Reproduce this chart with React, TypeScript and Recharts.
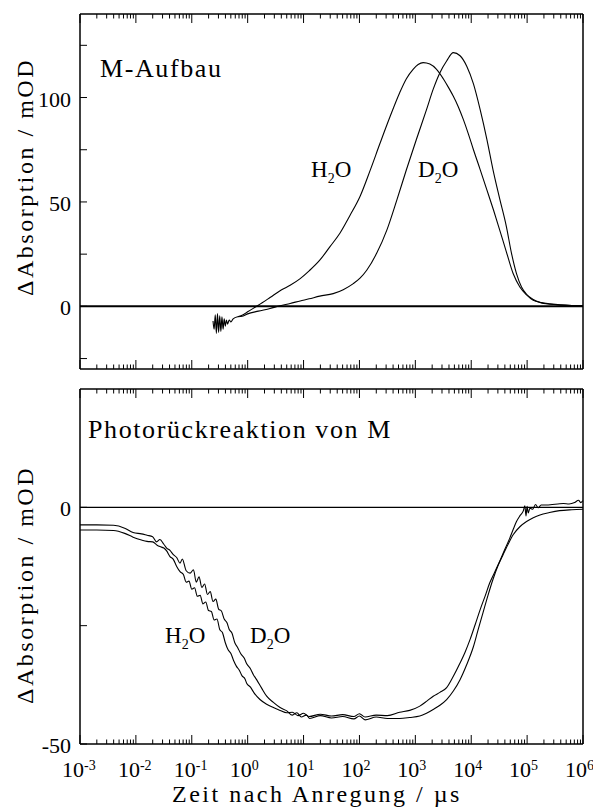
import { LineChart, Line, XAxis, YAxis, ReferenceLine } from "recharts";

const FONT = "'Liberation Serif', 'Times New Roman', serif";

// x positions are log10(t / µs)
const xDecades = [-3, -2, -1, 0, 1, 2, 3, 4, 5, 6];

// ---- M-Aufbau ----
const topBurstT = [-0.62, -0.6, -0.58, -0.56, -0.54, -0.52, -0.5, -0.48, -0.46, -0.44, -0.42, -0.4, -0.38, -0.36, -0.33, -0.3, -0.26, -0.18];
const topBurstA = [-7, -11, -4, -13, -3.5, -12.5, -4.5, -12, -5, -11, -6, -9.5, -6.5, -8.5, -6.5, -7.5, -6, -5];

const h2oTopT = [-0.18, -0.08, 0, 0.19, 0.4, 0.6, 0.76, 0.94, 1.1, 1.29, 1.47, 1.65, 1.83, 2.01, 2.19, 2.37, 2.55, 2.72, 2.84, 2.96, 3.05, 3.14, 3.26, 3.38, 3.5, 3.6, 3.68, 3.77, 3.86, 3.95, 4.04, 4.16, 4.28, 4.4, 4.51, 4.63, 4.75, 4.87, 4.99, 5.11, 5.25, 5.41, 5.6, 5.8, 6];
const h2oTopA = [-5, -4, -2.6, 0.5, 4.2, 7.8, 10.1, 13.3, 17, 22.1, 28.5, 35, 43.5, 52.6, 65, 78.2, 91, 102.3, 109, 113.5, 115.8, 116.7, 116, 113.5, 109, 104.5, 100.6, 95.5, 89.4, 82.5, 75, 65.5, 55.8, 46, 36.5, 26, 15.7, 9.3, 5.5, 2.9, 1.8, 1.2, 0.7, 0.4, 0.3];

const d2oTopT = [-0.18, -0.08, 0, 0.19, 0.4, 0.58, 0.76, 0.94, 1.1, 1.29, 1.53, 1.71, 1.89, 2.01, 2.13, 2.31, 2.49, 2.67, 2.84, 3.02, 3.2, 3.32, 3.44, 3.56, 3.68, 3.8, 3.92, 4.04, 4.16, 4.28, 4.39, 4.51, 4.63, 4.72, 4.81, 4.9, 4.99, 5.11, 5.23, 5.41, 5.6, 5.8, 6];
const d2oTopA = [-5, -4.6, -3.6, -2.3, -1, 0.3, 1.4, 2.6, 3.6, 4.9, 6.1, 8, 10.9, 13.5, 17.3, 25.5, 36.5, 51, 65.4, 80, 94.2, 104, 111.9, 117.5, 121.5, 120, 115, 106.5, 94.2, 80, 65.4, 51.5, 38.1, 25.5, 15.7, 9.3, 5.8, 3.3, 1.9, 1, 0.6, 0.35, 0.25];

// ---- Photorückreaktion von M ----
const h2oBotT = [-3, -2.7, -2.4, -2.2, -2.05, -1.9, -1.8, -1.7, -1.62, -1.57, -1.5, -1.45, -1.39, -1.33, -1.27, -1.21, -1.15, -1.1, -1.05, -1, -0.95, -0.9, -0.85, -0.8, -0.75, -0.7, -0.65, -0.6, -0.55, -0.5, -0.45, -0.4, -0.35, -0.3, -0.25, -0.2, -0.15, -0.1, -0.05, -0.02, 0.05, 0.12, 0.22, 0.34, 0.46, 0.58, 0.7, 0.8, 0.9, 1, 1.1, 1.3, 1.5, 1.7, 1.9, 2, 2.1, 2.3, 2.5, 2.72, 2.9, 3.08, 3.2, 3.32, 3.44, 3.56, 3.68, 3.8, 3.89, 3.98, 4.07, 4.16, 4.25, 4.33, 4.42, 4.51, 4.6, 4.69, 4.75, 4.81, 4.87, 4.93, 4.96, 4.98, 5, 5.02, 5.05, 5.1, 5.15, 5.2, 5.25, 5.35, 5.45, 5.55, 5.65, 5.75, 5.85, 5.92, 5.96, 6];
const h2oBotA = [-4.8, -4.8, -4.9, -5.5, -6.3, -6.9, -7.2, -7.3, -8, -8.3, -8.6, -9.2, -10.4, -11, -12.5, -13.6, -14.2, -15.8, -15.6, -17.3, -17, -18.8, -18.6, -20.4, -20, -21.8, -22, -23.8, -23.6, -25.8, -26.5, -28.6, -30.1, -30.9, -32.4, -33.6, -34.4, -35.6, -36.2, -37.1, -38, -39.3, -40.6, -41.6, -42.3, -42.9, -43.4, -43.3, -44, -43.5, -44.2, -43.7, -44.1, -43.8, -44.2, -43.6, -44.3, -43.9, -44, -43.3, -42.9, -42, -41, -39.9, -39.1, -38.1, -35.7, -32.9, -30.6, -27.9, -24.8, -21.6, -18.7, -16, -13.7, -11.4, -8.9, -6.5, -4.7, -3, -1.8, -0.8, 0.3, -1.8, 0.2, -1.2, -0.2, -0.4, 0.6, -0.1, 0.5, 0.5, 0.6, 0.7, 0.8, 0.7, 1, 1.5, 1, 1.4];

const d2oBotT = [-3, -2.7, -2.4, -2.2, -2.05, -1.9, -1.8, -1.7, -1.63, -1.57, -1.5, -1.45, -1.39, -1.33, -1.27, -1.21, -1.17, -1.1, -1.03, -0.97, -0.92, -0.87, -0.82, -0.77, -0.72, -0.67, -0.62, -0.57, -0.52, -0.47, -0.42, -0.37, -0.33, -0.28, -0.23, -0.18, -0.12, -0.06, -0.02, 0.05, 0.1, 0.16, 0.25, 0.34, 0.46, 0.58, 0.7, 0.8, 0.88, 0.96, 1.05, 1.11, 1.3, 1.5, 1.7, 1.9, 2, 2.1, 2.3, 2.5, 2.72, 2.9, 3.08, 3.2, 3.32, 3.44, 3.56, 3.68, 3.8, 3.92, 4.04, 4.12, 4.21, 4.3, 4.39, 4.48, 4.57, 4.66, 4.75, 4.87, 4.99, 5.11, 5.23, 5.4, 5.58, 5.8, 6];
const d2oBotA = [-3.7, -3.7, -3.8, -4.4, -5.3, -5.6, -5.9, -6.2, -7.3, -6.8, -7.8, -8.6, -9.1, -10, -10.6, -11.8, -10.9, -13.4, -13.9, -13.2, -15.8, -14.7, -16.9, -16.2, -18.4, -17.8, -19.9, -19.4, -21.5, -21.9, -23.6, -24.4, -25.8, -26.6, -28.6, -29.6, -31, -31.9, -33, -34.1, -35.3, -36.4, -38.2, -39.9, -41.2, -42.3, -43, -43.9, -43.4, -44.3, -43.9, -44.6, -44, -44.5, -44.2, -44.7, -44.1, -44.9, -44.3, -44.6, -44.6, -44.4, -44.1, -43.5, -42.7, -41.8, -40.6, -38.8, -36.4, -33.2, -29.4, -26, -22.3, -18.6, -15.2, -12.3, -10, -7.8, -5.8, -4.1, -3, -2.2, -1.6, -1.1, -0.7, -0.5, -0.4];

const topYTicks = [-25, 0, 25, 50, 75, 100, 125];
const topYLabels = [0, 50, 100];
const botYTicks = [-50, -25, 0];
const botYLabels = [-50, 0];

type Row = { lt: number; [key: string]: number };

function mergeSeries(series: Record<string, [number[], number[]]>): Row[] {
  const rows = new Map<number, Row>();
  Object.entries(series).forEach(([key, [ts, vs]]) => {
    ts.forEach((t, i) => {
      const row = rows.get(t) ?? { lt: t };
      row[key] = vs[i];
      rows.set(t, row);
    });
  });
  return [...rows.values()].sort((a, b) => a.lt - b.lt);
}

const topRows = mergeSeries({
  burst: [topBurstT, topBurstA],
  h2o: [h2oTopT, h2oTopA],
  d2o: [d2oTopT, d2oTopA],
});
const botRows = mergeSeries({
  h2o: [h2oBotT, h2oBotA],
  d2o: [d2oBotT, d2oBotA],
});

const minorTicks = xDecades
  .slice(0, -1)
  .flatMap((d) => [2, 3, 4, 5, 6, 7, 8, 9].map((k) => d + Math.log10(k)));
const xTicks = [...xDecades, ...minorTicks].sort((a, b) => a - b);
const isMajor = (v: number) => Math.abs(v - Math.round(v)) < 1e-6;

const frame = { stroke: "#000", strokeWidth: 1.5 };

const XTick = ({ x, y, payload, dir, label }: any) => {
  const major = isMajor(payload.value);
  const len = major ? 9 : 4.5;
  return (
    <g>
      <line x1={x} x2={x} y1={y} y2={y + dir * len} stroke="#000" strokeWidth={1} />
      {label && major && (
        <text x={x - 18} y={y + 33} textAnchor="start" style={{ fontFamily: FONT, fontSize: 22 }} fill="#000">
          10
          <tspan dy={-7} style={{ fontSize: 14 }}>
            {payload.value}
          </tspan>
        </text>
      )}
    </g>
  );
};

const YTick = ({ x, y, payload, dir, labels }: any) => (
  <g>
    <line x1={x} x2={x + dir * 7} y1={y} y2={y} stroke="#000" strokeWidth={1} />
    {labels && labels.includes(payload.value) && (
      <text x={x - 9} y={y + 9} textAnchor="end" style={{ fontFamily: FONT, fontSize: 22 }} fill="#000">
        {payload.value}
      </text>
    )}
  </g>
);

// axes are 1px thick so that recharts still draws them; the margins absorb that pixel
const Panel = ({ rows, height, margin, domain, yTicks, yLabels, keys, showXLabels, zeroWidth }: any) => (
  <LineChart width={593} height={height} data={rows} margin={margin}>
    <XAxis
      xAxisId="b"
      dataKey="lt"
      type="number"
      domain={[-3, 6]}
      ticks={xTicks}
      interval={0}
      height={1}
      tickSize={0}
      tickMargin={0}
      axisLine={frame}
      tickLine={false}
      tick={(p: any) => <XTick {...p} dir={-1} label={showXLabels} />}
    />
    <XAxis
      xAxisId="t"
      orientation="top"
      dataKey="lt"
      type="number"
      domain={[-3, 6]}
      ticks={xTicks}
      interval={0}
      height={1}
      tickSize={0}
      tickMargin={0}
      axisLine={frame}
      tickLine={false}
      tick={(p: any) => <XTick {...p} dir={1} label={false} />}
    />
    <YAxis
      yAxisId="l"
      type="number"
      domain={domain}
      ticks={yTicks}
      interval={0}
      width={1}
      tickSize={0}
      tickMargin={0}
      axisLine={frame}
      tickLine={false}
      tick={(p: any) => <YTick {...p} dir={1} labels={yLabels} />}
    />
    <YAxis
      yAxisId="r"
      orientation="right"
      type="number"
      domain={domain}
      ticks={yTicks}
      interval={0}
      width={1}
      tickSize={0}
      tickMargin={0}
      axisLine={frame}
      tickLine={false}
      tick={(p: any) => <YTick {...p} dir={-1} />}
    />
    <ReferenceLine xAxisId="b" yAxisId="l" y={0} stroke="#000" strokeWidth={zeroWidth} />
    {keys.map((k: string) => (
      <Line
        key={k}
        xAxisId="b"
        yAxisId="l"
        dataKey={k}
        type="monotone"
        stroke="#000"
        strokeWidth={1.1}
        dot={false}
        connectNulls
        isAnimationActive={false}
      />
    ))}
  </LineChart>
);

const Sub = ({ x, y, a }: { x: number; y: number; a: string }) => (
  <text x={x} y={y} style={{ fontFamily: FONT, fontSize: 23 }} fill="#000">
    {a}
    <tspan dy={6} style={{ fontSize: 14 }}>
      2
    </tspan>
    <tspan dy={-6}>O</tspan>
  </text>
);

export default function App() {
  const titleStyle = { fontFamily: FONT, fontSize: 26, letterSpacing: "1.6px" };
  const axisStyle = { fontFamily: FONT, fontSize: 24, letterSpacing: "2.5px" };
  return (
    <div style={{ position: "absolute", left: 0, top: 0, width: 593, height: 811, background: "#fff" }}>
      <div style={{ position: "absolute", left: 0, top: 0 }}>
        <Panel
          rows={topRows}
          height={380}
          margin={{ top: 13, right: 9, bottom: 10, left: 79 }}
          domain={[-30, 140]}
          yTicks={topYTicks}
          yLabels={topYLabels}
          keys={["burst", "h2o", "d2o"]}
          showXLabels={false}
          zeroWidth={2}
        />
      </div>
      <div style={{ position: "absolute", left: 0, top: 380 }}>
        <Panel
          rows={botRows}
          height={431}
          margin={{ top: 8, right: 9, bottom: 66, left: 79 }}
          domain={[-50, 25]}
          yTicks={botYTicks}
          yLabels={botYLabels}
          keys={["h2o", "d2o"]}
          showXLabels={true}
          zeroWidth={1.2}
        />
      </div>
      <svg width={593} height={811} style={{ position: "absolute", left: 0, top: 0, pointerEvents: "none" }}>
        <text x={100} y={77} style={titleStyle}>
          M-Aufbau
        </text>
        <text x={88} y={438} style={titleStyle}>
          Photorückreaktion von M
        </text>
        <Sub x={311} y={177} a="H" />
        <Sub x={418} y={177} a="D" />
        <Sub x={165} y={643} a="H" />
        <Sub x={250} y={643} a="D" />
        <text x={33} y={177} transform="rotate(-90 33 177)" textAnchor="middle" style={axisStyle}>
          ΔAbsorption / mOD
        </text>
        <text x={33} y={585} transform="rotate(-90 33 585)" textAnchor="middle" style={axisStyle}>
          ΔAbsorption / mOD
        </text>
        <text x={172} y={802} style={axisStyle}>
          Zeit nach Anregung / µs
        </text>
      </svg>
    </div>
  );
}
